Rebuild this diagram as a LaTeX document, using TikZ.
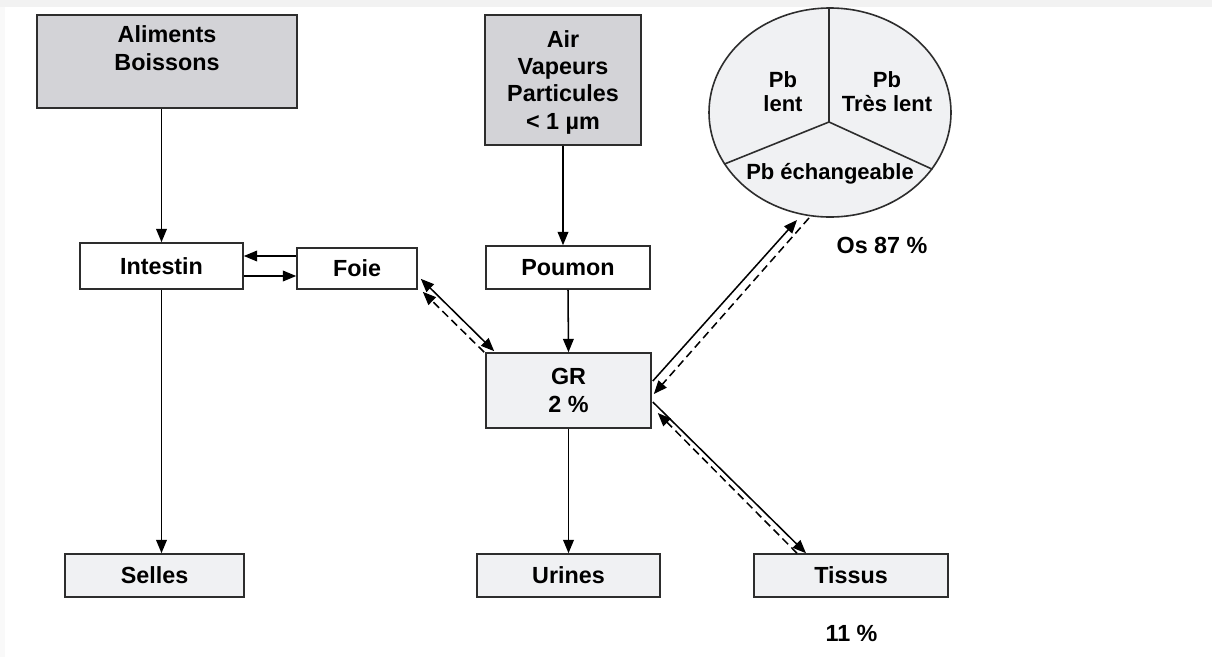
\documentclass[tikz,border=0pt]{standalone}
\usepackage{fontspec}
\setmainfont{Liberation Sans}
\usetikzlibrary{arrows.meta,shapes.geometric}
\definecolor{darkfill}{RGB}{211,211,215}
\definecolor{lightfill}{RGB}{240,241,243}
\definecolor{edgecol}{RGB}{45,45,45}
\definecolor{bandgray}{RGB}{242,242,242}
\begin{document}
\begin{tikzpicture}[x=0.75pt,y=-0.75pt,
  box/.style={draw=edgecol, line width=1.2pt, inner sep=0pt, align=center,
    font=\fontsize{17.5}{20.5}\selectfont\bfseries},
  pie/.style={inner sep=0pt, align=center, font=\fontsize{16.5}{17.5}\selectfont\bfseries},
  lbl/.style={inner sep=0pt, font=\fontsize{17.5}{20.5}\selectfont\bfseries},
  arr/.style={line width=1.15pt, -{Triangle[length=10pt,width=8pt]}},
  darr/.style={line width=1.15pt, {Triangle[length=10pt,width=8pt]}-{Triangle[length=10pt,width=8pt]}},
  dsh/.style={line width=1.15pt, dash pattern=on 6pt off 3.5pt, -{Triangle[length=10pt,width=8pt]}}
]
\useasboundingbox (0,0) rectangle (1212,657);
\fill[white] (0,0) rectangle (1212,657);
\fill[bandgray] (0,0) rectangle (1212,7);
\fill[bandgray!50] (0,7) rectangle (5,657);

% boxes
\node[box, fill=darkfill, minimum width=195pt, minimum height=69.75pt] (alim) at (167,61.5)
  {\raisebox{7.9pt}[\height][\depth]{\begin{tabular}{@{}c@{}}Aliments\\Boissons\end{tabular}}};
\node[box, fill=darkfill, minimum width=117pt, minimum height=97.5pt] (air) at (563,80)
  {\raisebox{-2pt}[\height][\depth]{\begin{tabular}{@{}c@{}}Air\\Vapeurs\\Particules\\< 1 µm\end{tabular}}};
\node[box, fill=white, minimum width=122.25pt, minimum height=34.5pt] (intestin) at (161.5,266) {Intestin};
\node[box, fill=white, minimum width=90pt, minimum height=30.75pt] (foie) at (357,268.5) {Foie};
\node[box, fill=white, minimum width=123pt, minimum height=32.25pt] (poumon) at (568,267.5) {Poumon};
\node[box, fill=lightfill, minimum width=123.75pt, minimum height=56.25pt] (gr) at (568.5,390.5) {GR\\2 \%};
\node[box, fill=lightfill, minimum width=134.25pt, minimum height=32.25pt] (selles) at (154.5,575.5) {Selles};
\node[box, fill=lightfill, minimum width=137.25pt, minimum height=32.25pt] (urines) at (568.5,575.5) {Urines};
\node[box, fill=lightfill, minimum width=145.5pt, minimum height=32.25pt] (tissus) at (851,575.5) {Tissus};

% bone pie
\node[ellipse, draw=edgecol, line width=1.2pt, fill=lightfill, inner sep=0pt,
  minimum width=181.5pt, minimum height=156.75pt] (os) at (830,112.5) {};
\coordinate (yj) at (829,122);
\draw[edgecol, line width=1.2pt] (yj) -- (yj |- os.north);
\draw[edgecol, line width=1.2pt] (yj) -- (os.206.6);
\draw[edgecol, line width=1.2pt] (yj) -- (os.331.9);
\node[pie] (pblent) at (783,91.5) {Pb\\lent};
\node[pie] (pbtres) at (887,91.5) {Pb\\Très lent};
\node[pie] (pbech) at (830,174) {Pb échangeable};
\node[lbl] (ospct) at (882,245) {Os 87 \%};
\node[lbl] (tispct) at (851.5,633) {11 \%};

% vertical flows
\draw[arr] (alim.south -| intestin.north) -- (intestin.north);
\draw[arr] (intestin.south) -- (intestin.south |- selles.north);
\draw[arr] (air.south) -- (air.south |- poumon.north);
\draw[arr] (poumon.south) -- (gr.north);
\draw[arr] (gr.south) -- (gr.south |- urines.north);

% intestin <-> foie
\draw[arr] ([shift={(0,-12.5)}]foie.west) -- ([shift={(0,-12.5)}]foie.west -| intestin.east);
\draw[arr] ([shift={(0,10)}]intestin.east) -- ([shift={(0,10)}]intestin.east -| foie.west);

% foie <-> GR
\draw[darr] ([shift={(3,-11)}]foie.south east) -- ([shift={(9,-1)}]gr.north west);
\draw[dsh] ([shift={(-1,0)}]gr.north west) -- ([shift={(5,2)}]foie.south east);

% GR <-> os
\draw[arr] ([shift={(1,-9.5)}]gr.east) -- (797,220);
\draw[dsh] (809,218) -- ([shift={(2,3.5)}]gr.east);

% GR <-> tissus
\draw[arr] ([shift={(1,11.5)}]gr.east) -- ([shift={(-45,0)}]tissus.north);
\draw[dsh] ([shift={(-54,0)}]tissus.north) -- ([shift={(6,22.5)}]gr.east);
\end{tikzpicture}
\end{document}
